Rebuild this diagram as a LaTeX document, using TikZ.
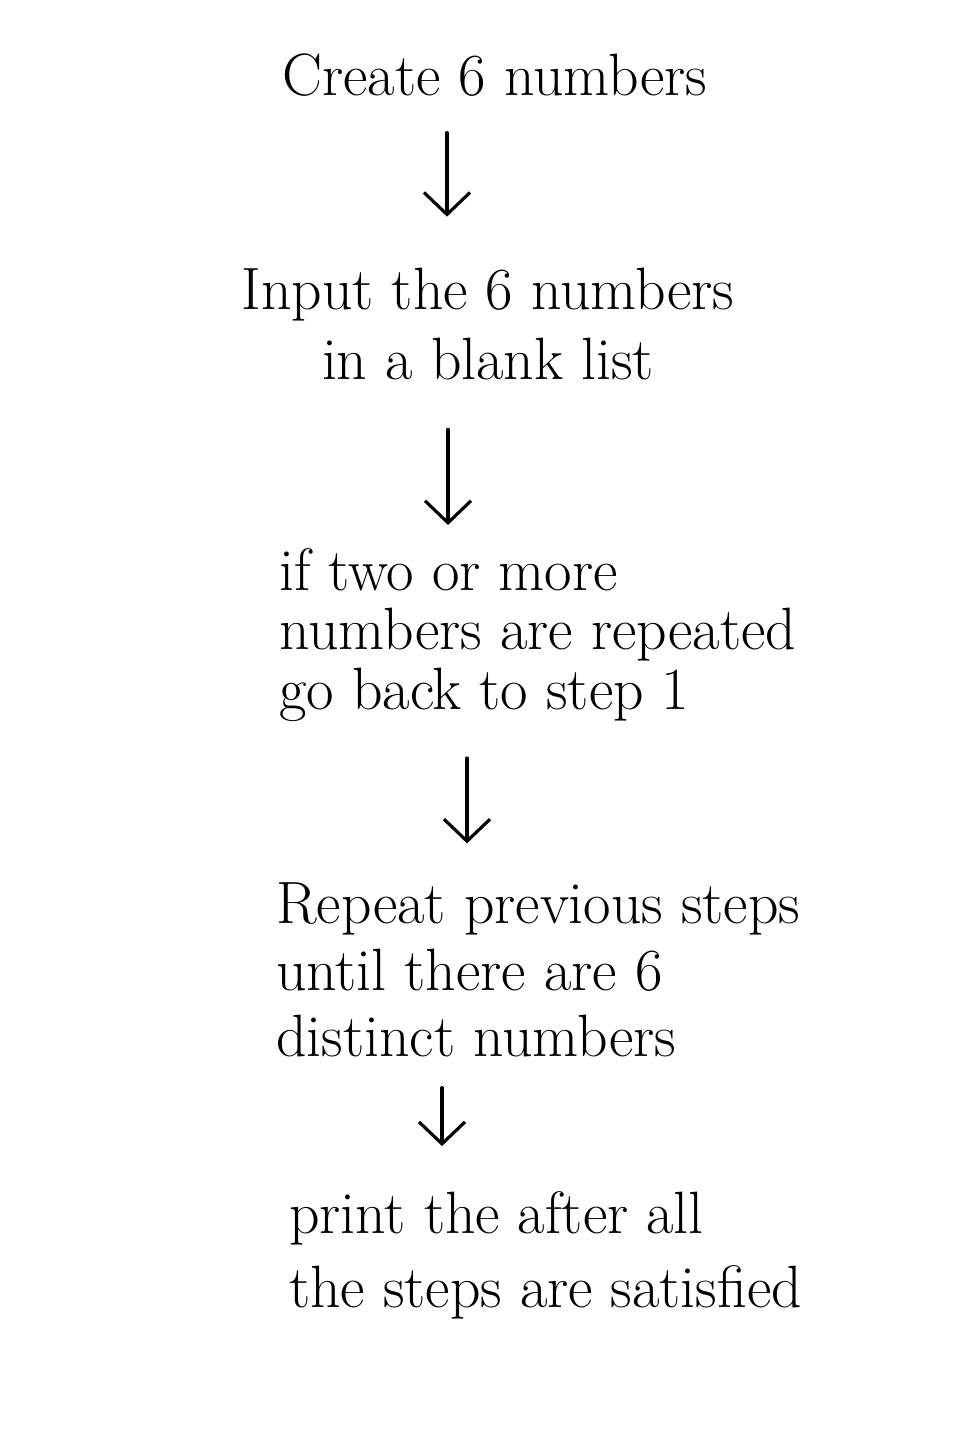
\documentclass[tikz,border=0pt]{standalone}
\usepackage{tikz}
\usetikzlibrary{arrows.meta}

\tikzset{
  stepnode/.style={font=\fontsize{17}{20}\selectfont, inner sep=1pt},
  flow/.style={-{Straight Barb[length=2.2mm,width=4.6mm]}, line width=0.9pt, line cap=round}
}

\begin{document}
\begin{tikzpicture}
        \useasboundingbox[fill=white] (0,0) rectangle (9.6,-14.4);
        % Steps
        \node[stepnode] (create) at (4.95,-0.75) {Create 6 numbers};
        \node[stepnode, align=center] (input) at (4.88,-3.24) {Input the 6 numbers\\in a blank list};
        \node[stepnode, align=left, anchor=west, font=\fontsize{17}{17}\selectfont] (check) at (2.75,-6.35) {if two or more\\numbers are repeated\\go back to step 1};
        \node[stepnode, align=left, anchor=west, font=\fontsize{17}{19}\selectfont] (repeat) at (2.72,-9.7) {Repeat previous steps\\until there are 6\\distinct numbers};
        \node[stepnode, align=left, anchor=west, font=\fontsize{17}{21}\selectfont] (print) at (2.85,-12.55) {print the after all\\the steps are satisfied};
        % Arrows
        \draw[flow, shorten <=3.2mm, shorten >=4.7mm] (create.south -| 4.47,0) -- (input.north -| 4.47,0);
        \draw[flow, shorten <=4.5mm, shorten >=1.9mm] (input.south -| 4.48,0) -- (check.north -| 4.48,0);
        \draw[flow, shorten <=3.2mm, shorten >=3.5mm] (check.south -| 4.67,0) -- (repeat.north -| 4.67,0);
        \draw[flow, shorten <=2.6mm, shorten >=4.1mm] (repeat.south -| 4.42,0) -- (print.north -| 4.42,0);
\end{tikzpicture}
\end{document}
